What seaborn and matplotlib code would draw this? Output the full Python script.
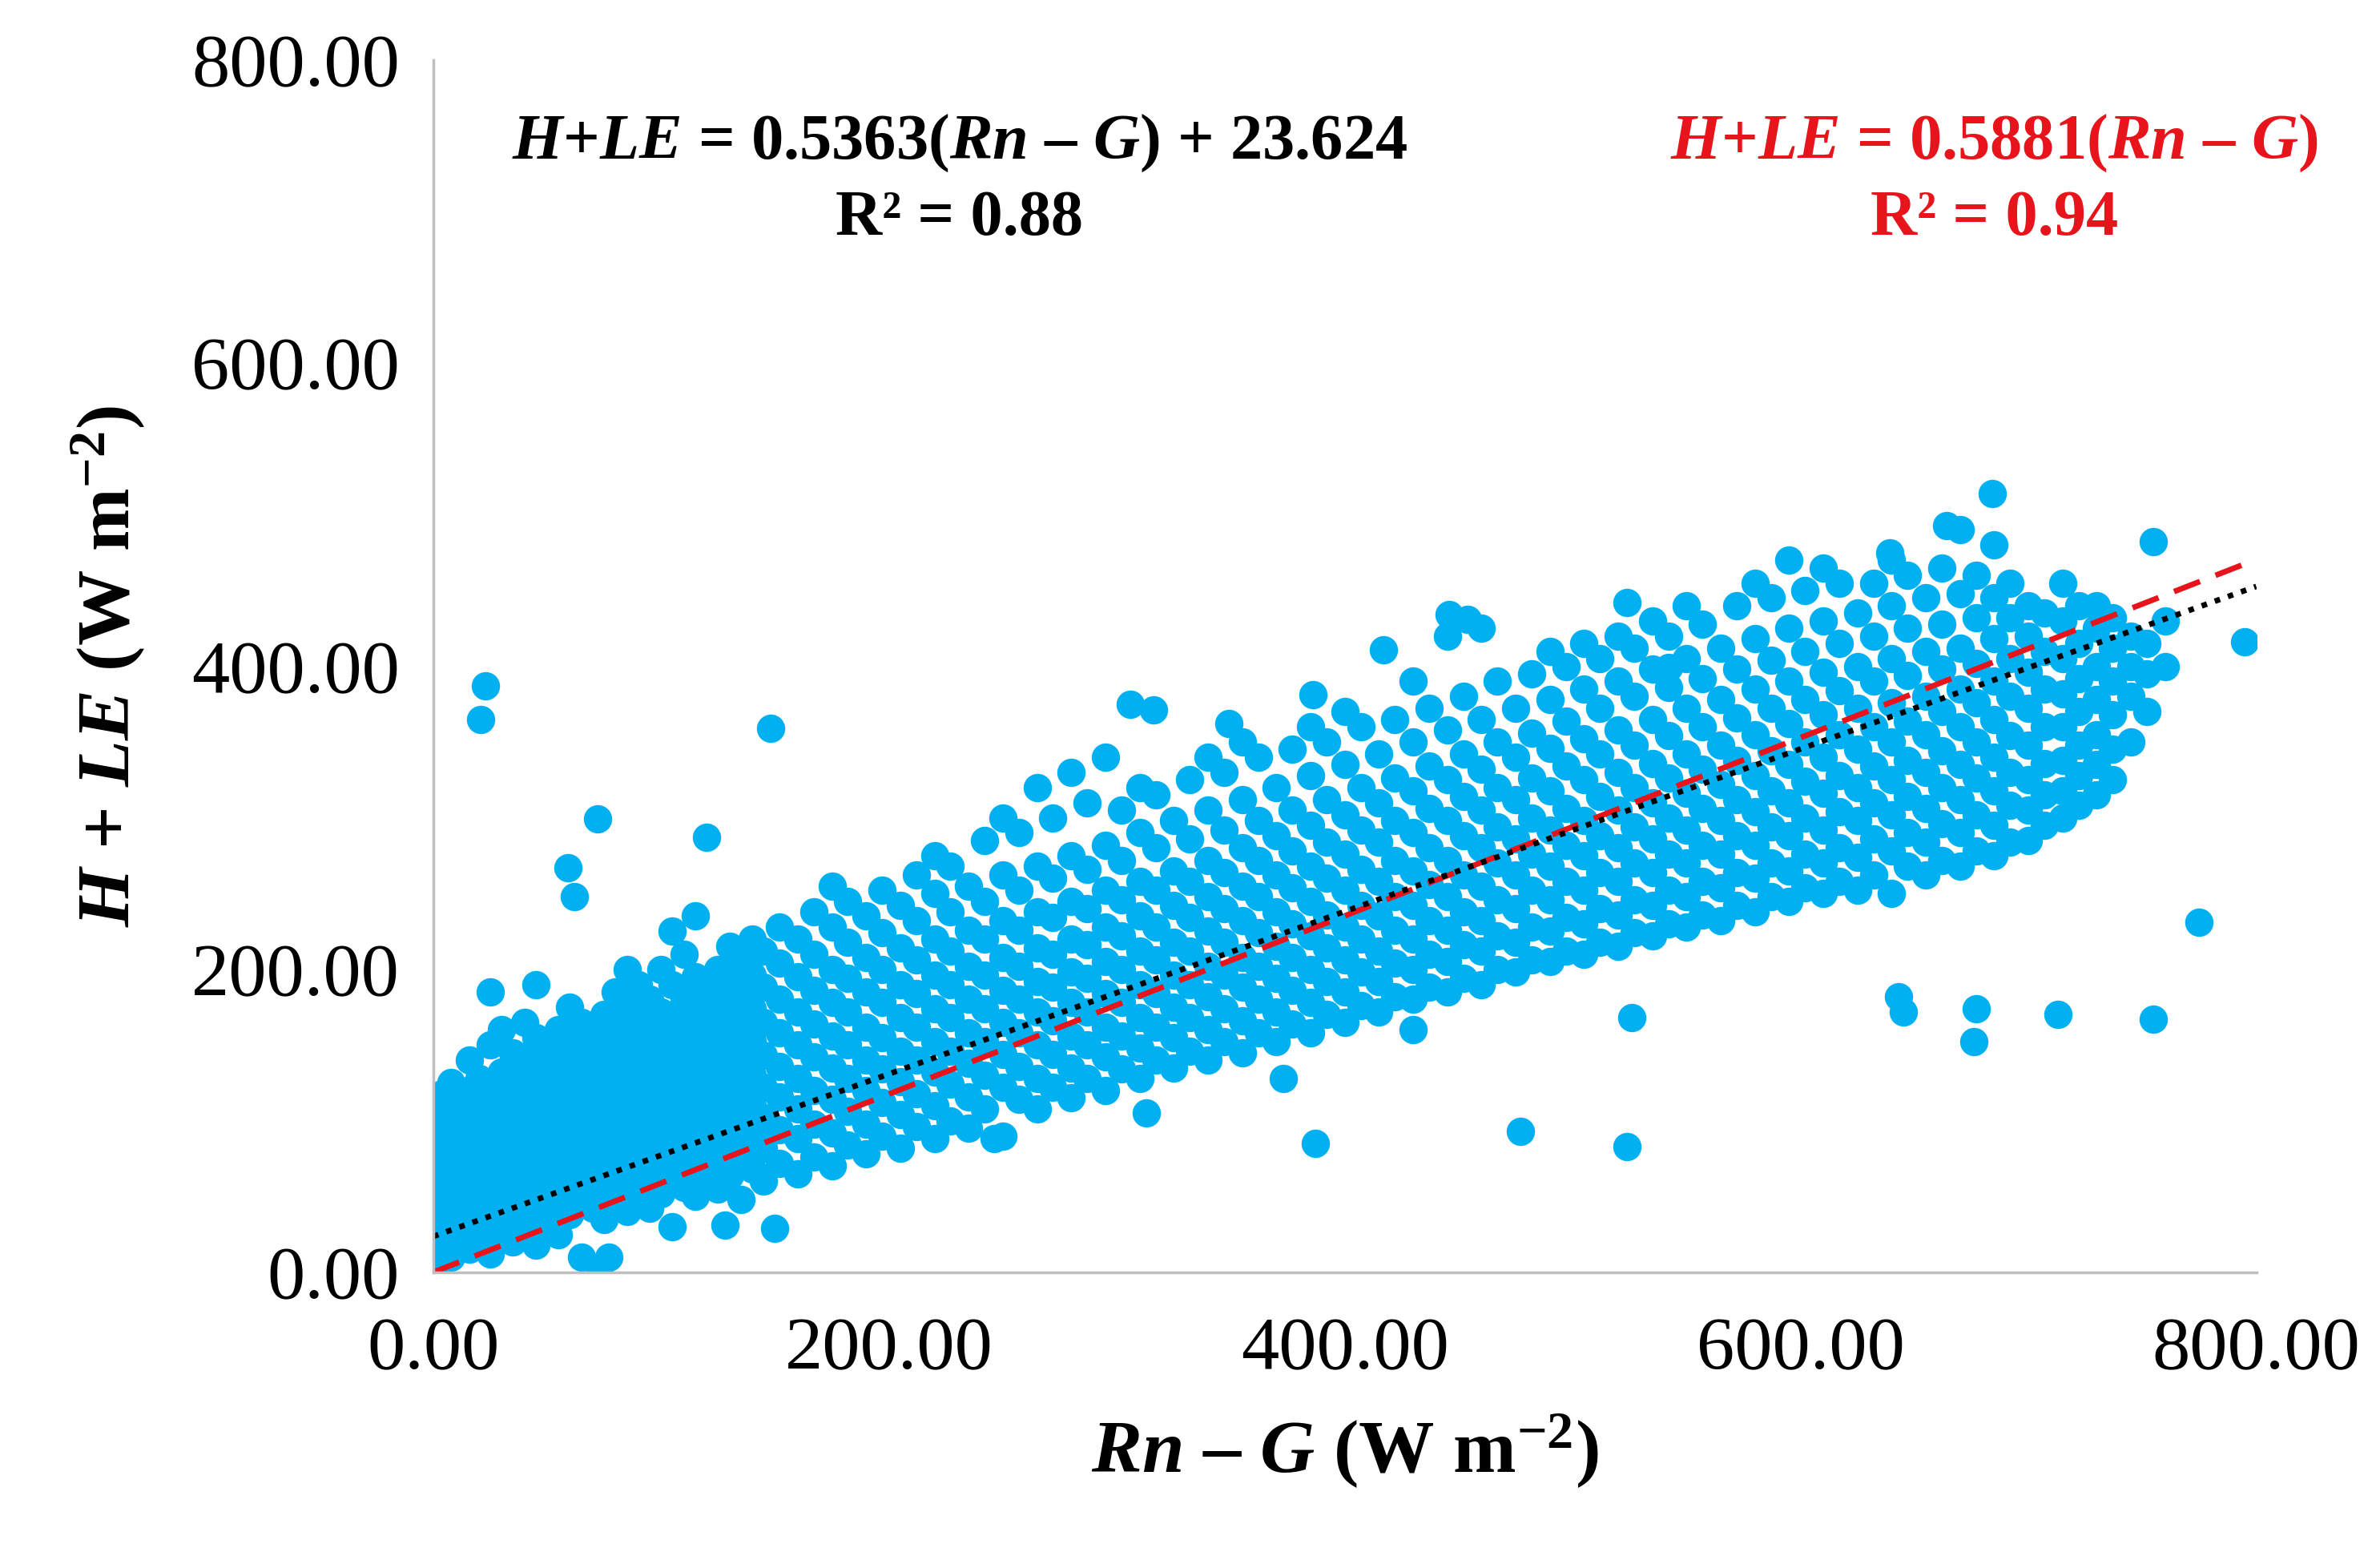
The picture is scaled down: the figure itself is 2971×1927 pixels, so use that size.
import matplotlib
matplotlib.use("Agg")
import matplotlib.pyplot as plt
import seaborn as sns
import numpy as np
import pandas as pd

plt.rcParams["font.family"] = "Liberation Serif"
plt.rcParams["mathtext.fontset"] = "custom"
plt.rcParams["mathtext.rm"] = "Liberation Serif:bold"
plt.rcParams["mathtext.it"] = "Liberation Serif:bold:italic"
plt.rcParams["mathtext.bf"] = "Liberation Serif:bold"

# main cloud: (Rn-G, list of H+LE values read per column)
cloud = [
 (0,[5,20,35,50,65,80,95,110]),(8,[10,28,45,60,75,92,108,125]),
 (16,[15,30,48,62,80,98,115,140]),(25,[12,35,52,70,88,105,122,150,185]),
 (35,[20,40,58,75,92,110,128,145]),(45,[18,45,62,80,98,115,135,155,190]),
 (55,[25,48,66,84,102,120,140,160]),(65,[10,50,70,88,106,125,145,165]),
 (75,[35,55,75,93,112,130,150,170]),(85,[40,58,78,96,115,134,155,175,200]),
 (95,[42,62,82,100,120,140,160,180]),(105,[30,65,85,105,124,145,165,190,225]),
 (115,[50,70,90,110,130,150,170,195,235]),(125,[55,75,95,115,135,155,178,200]),
 (135,[48,78,98,118,140,160,182,205]),(145,[60,82,102,122,143,165,188,212]),
 (160,[65,88,108,128,150,172,195,220]),(175,[70,92,114,135,156,178,200,228,255]),
 (190,[78,98,120,140,162,185,208,235]),(205,[82,104,126,146,168,190,214,242]),
 (220,[88,110,132,152,174,196,220,250,275]),(235,[95,116,138,158,180,202,226,255]),
 (250,[90,122,144,165,186,208,232,262,300]),(265,[108,128,150,172,192,214,238,268,320]),
 (280,[115,135,156,178,198,220,245,275,330]),(295,[120,142,162,184,205,228,252,282,340]),
 (310,[128,148,168,190,212,235,258,290,320]),(325,[135,155,175,196,218,242,265,298]),
 (340,[140,160,182,202,225,248,272,305,340]),(355,[145,166,188,208,232,255,280,312,350]),
 (370,[152,172,194,215,238,262,288,320]),(385,[158,178,200,222,245,268,295,328,360]),
 (400,[165,185,206,228,252,276,302,335,370]),(415,[172,192,212,235,258,284,310,342]),
 (430,[160,180,200,220,242,265,290,318,350,390]),(445,[185,205,226,248,272,298,325,358,420]),
 (460,[190,212,232,255,280,305,332,365,425]),(475,[198,218,240,262,286,312,340,372]),
 (490,[205,225,246,268,292,318,346,378,410]),(505,[210,230,252,275,298,325,352,385,415]),
 (520,[215,236,258,280,305,330,358,390,420]),(535,[222,242,264,286,310,336,365,398,430]),
 (550,[228,248,270,292,316,342,372,405,440]),(565,[232,254,276,298,322,348,378,412]),
 (580,[238,260,282,304,328,355,385,418,455]),(595,[245,265,288,310,335,362,390,425,470]),
 (610,[250,270,292,316,340,368,396,430,465]),(625,[252,274,298,320,345,372,400,435]),
 (640,[250,278,302,325,350,376,405,440,470]),(655,[262,284,306,330,355,380,410,445]),
 (670,[268,290,312,335,360,385,412,448,490]),(685,[275,295,318,340,365,390,418,445,480]),
 (700,[285,305,325,348,372,396,420,440]),(715,[300,318,338,360,382,405,430,455]),
 (730,[315,335,355,378,400,425,440]),(745,[350,380,400,420]),(760,[400,430]),
]
# interleaved columns of the same cloud
cloud_b = [
 (4,[12,28,42,58,72,88,102,118]),(12,[18,36,52,68,86,102,120]),
 (20,[22,40,56,72,90,108,128]),(30,[25,44,62,80,96,114,132,160]),
 (40,[30,50,68,86,104,122,140,165]),(50,[34,55,74,92,110,128,148]),
 (60,[38,58,78,96,114,132,152,175]),(70,[42,62,82,100,120,140,158]),
 (80,[46,66,86,104,124,142,162,185]),(90,[50,70,90,108,128,148,168,190]),
 (100,[52,74,94,112,132,152,172,200]),(110,[56,78,98,118,138,158,180,210]),
 (120,[60,82,102,122,142,162,185]),(130,[64,86,106,126,146,168,190,215]),
 (140,[68,90,110,130,152,174,196,220]),(152,[72,94,116,136,158,180,204,228]),
 (167,[76,98,120,142,164,186,210,238]),(182,[84,106,128,150,172,194,218,245]),
 (197,[90,112,134,155,178,200,224,252]),(212,[96,118,140,162,184,206,232,262]),
 (227,[100,124,146,168,190,212,238,268]),(242,[108,130,152,174,196,220,245,285]),
 (257,[114,136,158,180,202,226,252,290]),(272,[122,144,166,188,210,234,260,300]),
 (287,[128,150,172,194,216,240,266,310]),(302,[134,156,178,200,222,246,272,305]),
 (317,[140,162,184,206,228,252,280,315]),(332,[146,168,190,212,234,258,286,325]),
 (347,[152,174,196,218,240,264,292,330]),(362,[158,180,202,224,248,272,298,340]),
 (377,[164,186,208,230,254,278,305,345]),(392,[170,192,214,236,260,284,312,350]),
 (407,[176,198,220,242,266,292,320,360]),(422,[182,204,226,248,272,298,326,365]),
 (437,[188,210,232,256,280,306,334,372]),(452,[194,216,238,262,288,314,342,380]),
 (467,[200,222,246,270,294,320,350,390]),(482,[206,228,252,276,300,326,356,395]),
 (497,[212,234,258,282,306,334,364,400]),(512,[218,240,264,288,314,342,372,405]),
 (527,[224,246,270,294,320,348,380,412]),(542,[230,252,276,300,326,354,386,420]),
 (557,[236,258,282,306,332,360,392,428]),(572,[242,264,288,312,338,366,398,440]),
 (587,[248,270,294,318,344,372,404,445]),(602,[254,276,300,324,350,378,410,450]),
 (617,[258,280,304,328,355,384,415,455]),(632,[262,286,310,334,360,390,420,455]),
 (647,[268,290,314,338,364,394,425,460]),(662,[272,296,320,344,370,398,428,465]),
 (677,[278,302,326,350,376,402,432,460]),(692,[284,308,330,354,380,405,432,455]),
 (707,[295,315,336,360,385,410,435]),(722,[308,328,348,370,392,415,440]),
 (737,[325,345,368,390,412,432]),(752,[370,395,415]),
]
outlier_x = [23,21,148,72,59,62,120,387,477,524,526,775,755,713,676,677,643,645,
             684,664,755,795,639,150,128,77,73,0,306,316,542,524,417,446,454,386,349,246,313,373]
outlier_y = [387,365,359,299,267,248,287,85,93,83,168,231,167,170,152,174,182,172,
             514,493,482,416,475,29,31,10,3,0,375,371,399,442,411,434,431,381,362,88,105,128]

fit_through_origin = [0.5881, 0.0]
fit_linear = [0.5363, 23.624]
x_ticks = [0, 200, 400, 600, 800]
y_ticks = [0, 200, 400, 600, 800]

xs, ys = [], []
for cx, cys in cloud + cloud_b:
    xs += [cx] * len(cys); ys += cys
xs += outlier_x; ys += outlier_y
df = pd.DataFrame({"x": xs, "y": ys})

fig = plt.figure(figsize=(29.71, 19.27), dpi=100)
ax = fig.add_axes([0.182, 0.176, 0.766, 0.785])
sns.scatterplot(data=df, x="x", y="y", ax=ax, color="#00B0F0", s=650,
                linewidth=0, alpha=1, legend=False)
lx = np.array([0, 800])
ax.plot(lx, fit_through_origin[0] * lx + fit_through_origin[1], color="#E8141B",
        ls=(0, (5, 3)), lw=5)
ax.plot(lx, fit_linear[0] * lx + fit_linear[1], color="black", ls=(0, (1, 1.5)), lw=5)

ax.set_xlim(0, 800); ax.set_ylim(0, 800)
ax.set_xticks(x_ticks); ax.set_yticks(y_ticks)
ax.set_xticklabels([f"{v:.2f}" for v in x_ticks])
ax.set_yticklabels([f"{v:.2f}" for v in y_ticks])
ax.tick_params(length=0, labelsize=68)
ax.tick_params(axis="x", pad=40)
ax.tick_params(axis="y", pad=30)
for s in ["top", "right"]:
    ax.spines[s].set_visible(False)
for s in ["left", "bottom"]:
    ax.spines[s].set_color("#BFBFBF"); ax.spines[s].set_linewidth(2.5)

ax.set_xlabel(r"$Rn$ – $G$ (W m$^{-2}$)", fontsize=68, fontweight="bold", labelpad=25)
ax.set_ylabel(r"$H$ + $LE$ (W m$^{-2}$)", fontsize=68, fontweight="bold", labelpad=40)

ax.text(231, 745, r"$H$+$LE$ = 0.5363($Rn$ – $G$) + 23.624", fontsize=58,
        fontweight="bold", ha="center", va="center", color="black")
ax.text(231, 695, "R² = 0.88", fontsize=58, fontweight="bold", ha="center", va="center")
ax.text(685, 745, r"$H$+$LE$ = 0.5881($Rn$ – $G$)", fontsize=58,
        fontweight="bold", ha="center", va="center", color="#E8141B")
ax.text(685, 695, "R² = 0.94", fontsize=58, fontweight="bold", ha="center", va="center",
        color="#E8141B")

fig.savefig("out.png", dpi=100)
